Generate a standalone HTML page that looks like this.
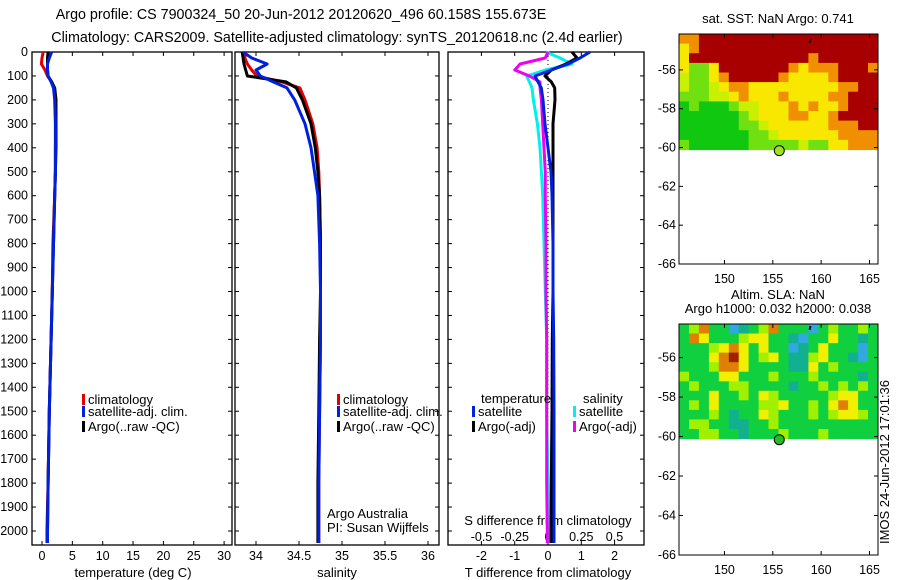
<!DOCTYPE html>
<html><head><meta charset="utf-8"><style>
body{margin:0;background:#fff;}
svg{display:block;font-family:"Liberation Sans",sans-serif;font-size:13px;}
.tk{font-size:12.5px;}
.big{font-size:14.3px;}
</style></head><body>
<svg id="c" width="900" height="580"></svg>
<script>
const depths=[0,25,50,75,100,125,150,200,300,400,500,600,800,1000,1200,1500,1800,2000,2050];
const tClim=[0.2,0.0,-0.1,0.5,0.9,1.6,2.0,2.3,2.3,2.2,2.2,2.1,1.8,1.7,1.5,1.2,1.0,0.8,0.8];
const tSat=[1.6,1.2,0.9,0.9,1.0,1.5,1.9,2.1,2.2,2.2,2.2,2.1,1.9,1.7,1.5,1.2,1.0,0.9,0.9];
const tArgo=[1.0,0.9,0.9,0.9,1.0,1.6,2.1,2.3,2.3,2.3,2.2,2.1,1.9,1.7,1.5,1.2,1.0,0.9,0.9];
const sClim=[33.88,33.87,33.9,33.95,34.01,34.3,34.51,34.57,34.66,34.71,34.73,34.74,34.75,34.75,34.75,34.74,34.73,34.73,34.73];
const sSat=[33.85,33.95,34.13,34.0,34.05,34.2,34.36,34.45,34.57,34.64,34.68,34.72,34.74,34.75,34.75,34.74,34.73,34.73,34.73];
const sArgo=[33.84,33.85,33.86,33.88,33.9,34.35,34.47,34.54,34.64,34.69,34.72,34.74,34.75,34.75,34.74,34.73,34.72,34.72,34.72];
const dTsat=[1.26,0.96,0.6,0.1,-0.39,-0.3,-0.2,-0.15,-0.09,0.0,0.09,0.12,0.15,0.15,0.17,0.18,0.18,0.18,0.18];
const dTargo=[0.72,0.87,0.54,0.1,-0.09,0.1,0.2,0.21,0.15,0.15,0.15,0.15,0.15,0.15,0.13,0.12,0.1,0.09,0.09];
const dSsat=[-0.015,0.09,0.18,-0.02,-0.16,-0.14,-0.12,-0.11,-0.08,-0.06,-0.05,-0.04,-0.03,-0.02,-0.01,-0.01,0.0,0.0,0.0];
const dSargo=[0.0,-0.02,-0.21,-0.25,-0.14,-0.06,-0.06,-0.05,-0.04,-0.03,-0.02,-0.02,-0.015,-0.015,-0.01,-0.01,-0.01,-0.005,-0.005];
const depthTicks=[0,100,200,300,400,500,600,700,800,900,1000,1100,1200,1300,1400,1500,1600,1700,1800,1900,2000];
const tTicks=[0,5,10,15,20,25,30];
const sTicks=[34,34.5,35,35.5,36];
const dTTicks=[-2,-1,0,1,2];
const dSTicks=[-0.5,-0.25,0,0.25,0.5];
const latTicks=[-56,-58,-60,-62,-64,-66];
const lonTicks=[150,155,160,165];
const sstGrid=[
"44555555555555555555",
"34555555555555555555",
"35555555555554555555",
"31135555555434445554",
"21134555554333345555",
"21123443333333334455",
"11122343334333344555",
"01000122333434334555",
"00000012333443345555",
"00000011233333344455",
"00000001123333334444",
"10000001111121133444"];
const slaGrid=[
"23522012352220232232",
"25422234422102242212",
"22234542422012422202",
"22245642342113422102",
"22235542222114232222",
"32224422232223222212",
"23222332222122323232",
"22242232432222234422",
"23242222334223245422",
"22232122432223234432",
"23322112232222222222",
"22332212223222322222"];
const sstCols=["#10c810","#70e010","#c8f000","#f8e800","#f09000","#a80000"];
const slaCols=["#30a8e0","#10b090","#10d040","#a0f000","#f0f000","#e08000","#a02000"];

const NS="http://www.w3.org/2000/svg";
const svg=document.getElementById('c');
function el(t,a,p){const e=document.createElementNS(NS,t);for(const k in a)e.setAttribute(k,a[k]);(p||svg).appendChild(e);return e;}
function txt(x,y,s,anchor,p,cls){const e=el('text',{x:x,y:y,'text-anchor':anchor||'start'},p);if(cls)e.setAttribute('class',cls);e.textContent=s;return e;}

const Y0=52,PX100=23.95,BOT=545;
const yD=d=>Y0+d*PX100/100;
const xT=v=>42+v*6.07, xS=v=>256+(v-34)*86, xDT=v=>548+v*33.3, xDS=v=>548+v*133;

let t=txt(301,19,"Argo profile: CS 7900324_50 20-Jun-2012 20120620_496 60.158S 155.673E","middle",svg,'big');

t=txt(337,42,"Climatology: CARS2009. Satellite-adjusted climatology: synTS_20120618.nc (2.4d earlier)","middle",svg,'big');


function panel(name,x0,x1){
  const g=el('g',{});
  el('rect',{x:x0,y:Y0,width:x1-x0,height:BOT-Y0,fill:'none',stroke:'#000','stroke-width':1.3},g);
  depthTicks.forEach(d=>{el('line',{x1:x0,x2:x0+4,y1:yD(d),y2:yD(d),stroke:'#000'},g);el('line',{x1:x1,x2:x1-4,y1:yD(d),y2:yD(d),stroke:'#000'},g);});
  return g;
}
function line(g,fx,xs,col,name,w){
  const pts=depths.map((d,i)=>fx(xs[i]).toFixed(1)+","+yD(d).toFixed(1)).join(" ");
  const e=el('polyline',{points:pts,fill:'none',stroke:col,'stroke-width':w||3,'stroke-linejoin':'round'},g);
  
}
function legendEntry(g,x,y,col,label){
  el('rect',{x:x,y:y-10,width:3,height:11,fill:col},g);
  txt(x+6,y,label,'start',g);
}
const p1=panel('temperature-panel',32,232);
depthTicks.forEach(d=>txt(28,yD(d)+4,String(d),'end',p1,'tk'));
tTicks.forEach(v=>{el('line',{x1:xT(v),x2:xT(v),y1:Y0,y2:Y0+4,stroke:'#000'},p1);el('line',{x1:xT(v),x2:xT(v),y1:BOT,y2:BOT-4,stroke:'#000'},p1);txt(xT(v),560,String(v),'middle',p1,'tk');});
txt(133,577,"temperature (deg C)","middle",p1);
line(p1,xT,tClim,'#e00000','temp-climatology-line');
line(p1,xT,tArgo,'#000','temp-argo-line');
line(p1,xT,tSat,'#0020e0','temp-satellite-line');
legendEntry(p1,82,404,'#e00000','climatology');
legendEntry(p1,82,416,'#0020e0','satellite-adj. clim.');
legendEntry(p1,82,431,'#000','Argo(..raw -QC)');
const p2=panel('salinity-panel',235,439);
sTicks.forEach(v=>{el('line',{x1:xS(v),x2:xS(v),y1:Y0,y2:Y0+4,stroke:'#000'},p2);el('line',{x1:xS(v),x2:xS(v),y1:BOT,y2:BOT-4,stroke:'#000'},p2);txt(xS(v),560,String(v),'middle',p2,'tk');});
txt(337,577,"salinity","middle",p2);
line(p2,xS,sClim,'#e00000','sal-climatology-line');
line(p2,xS,sArgo,'#000','sal-argo-line');
line(p2,xS,sSat,'#0020e0','sal-satellite-line');
legendEntry(p2,337,404,'#e00000','climatology');
legendEntry(p2,337,416,'#0020e0','satellite-adj. clim.');
legendEntry(p2,337,431,'#000','Argo(..raw -QC)');
txt(327,518,"Argo Australia","start",p2);
txt(327,532,"PI: Susan Wijffels","start",p2);
const p3=panel('difference-panel',448,644);
dTTicks.forEach(v=>{el('line',{x1:xDT(v),x2:xDT(v),y1:BOT,y2:BOT-4,stroke:'#000'},p3);el('line',{x1:xDT(v),x2:xDT(v),y1:Y0,y2:Y0+4,stroke:'#000'},p3);txt(xDT(v),560,String(v),'middle',p3,'tk');});
dSTicks.forEach(v=>txt(xDS(v),541,String(v),'middle',p3,'tk'));
txt(548,525,"S difference from climatology","middle",p3);
txt(548,577,"T difference from climatology","middle",p3);
el('line',{x1:548,x2:548,y1:Y0,y2:BOT,stroke:'#000','stroke-dasharray':'1,3'},p3);
line(p3,xDS,dSsat,'#00f0f0','sal-diff-satellite-line');
line(p3,xDS,dSargo,'#f000f0','sal-diff-argo-line');
line(p3,xDT,dTargo,'#000','temp-diff-argo-line');
line(p3,xDT,dTsat,'#0020e0','temp-diff-satellite-line');
txt(481,403,"temperature","start",p3);
legendEntry(p3,472,416,'#0020e0','satellite');
legendEntry(p3,472,431,'#000','Argo(-adj)');
txt(583,403,"salinity","start",p3);
legendEntry(p3,573,416,'#00f0f0','satellite');
legendEntry(p3,573,431,'#f000f0','Argo(-adj)');

function map(name,top,bot,grid,cols,dotCol,titles){
  const g=el('g',{});
  const L=679,R=878,lonL=145.3,pxLon=9.67,pxLat=(bot.y-top.y)/(top.lat+66);
  const xL=lo=>L+(lo-lonL)*pxLon, yL=la=>top.y+(top.lat-la)*pxLat;
  const rows=grid.length,ncol=grid[0].length;
  const y1=yL(-60.1),cw=(R-L)/ncol,ch=(y1-top.y)/rows;
  grid.forEach((r,i)=>{for(let j=0;j<ncol;j++){el('rect',{x:(L+j*cw).toFixed(1),y:(top.y+i*ch).toFixed(1),width:(cw+0.6).toFixed(1),height:(ch+0.6).toFixed(1),fill:cols[+r[j]]},g);}});
  el('rect',{x:L,y:top.y,width:R-L,height:bot.y-top.y,fill:'none',stroke:'#000'},g);
  latTicks.forEach(la=>{el('line',{x1:L,x2:L+4,y1:yL(la),y2:yL(la),stroke:'#000'},g);el('line',{x1:R,x2:R-4,y1:yL(la),y2:yL(la),stroke:'#000'},g);txt(L-3,yL(la)+4,String(la),'end',g,'tk');});
  lonTicks.forEach(lo=>{el('line',{x1:xL(lo),x2:xL(lo),y1:top.y,y2:top.y+4,stroke:'#000'},g);el('line',{x1:xL(lo),x2:xL(lo),y1:bot.y,y2:bot.y-4,stroke:'#000'},g);txt(xL(lo),bot.y+19,String(lo),'middle',g,'tk');});
  el('line',{x1:xL(158.8),x2:xL(158.9),y1:yL(-54.6),y2:yL(-54.4),stroke:'#000','stroke-width':2},g);
  const d=el('circle',{cx:xL(155.67),cy:yL(-60.16),r:5,fill:dotCol,stroke:'#000'},g);
  
  titles.forEach((s,i)=>txt(778,top.y-11-(titles.length-1-i)*14,s,'middle',g));
}
map('sst-map',{y:34,lat:-54.15},{y:264},sstGrid,sstCols,'#a0e020',["sat. SST: NaN Argo: 0.741"]);
map('sla-map',{y:324,lat:-54.3},{y:555},slaGrid,slaCols,'#20c020',["Altim. SLA: NaN","Argo h1000: 0.032 h2000: 0.038"]);
const v=txt(0,0,"IMOS 24-Jun-2012 17:01:36","middle");
v.setAttribute('transform','translate(889,462) rotate(-90)');

</script>
</body></html>
